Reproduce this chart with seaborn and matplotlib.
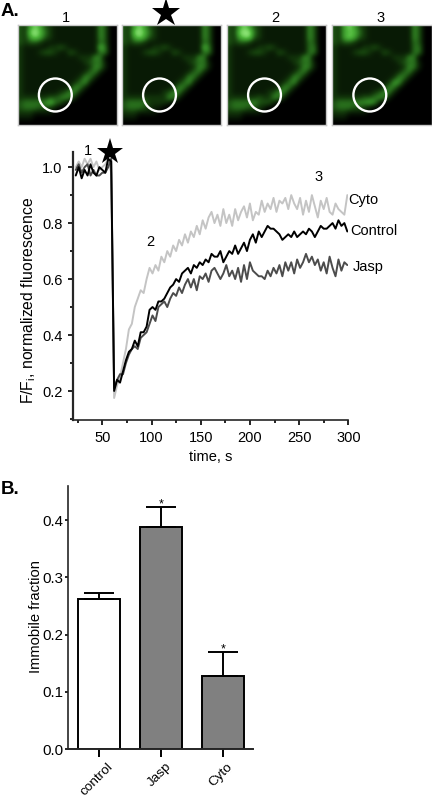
import numpy as np
import pandas as pd
import seaborn as sns
import matplotlib
matplotlib.use("Agg")
import matplotlib.pyplot as plt
from matplotlib.colors import LinearSegmentedColormap
from matplotlib.lines import Line2D
from matplotlib.patches import Circle
from matplotlib.ticker import MultipleLocator
from matplotlib.transforms import ScaledTranslation

W, H = 432, 798

time_s = [23, 26, 29, 32, 35, 38, 41, 44, 47, 50, 53, 56, 59,
          62, 65, 68, 71, 74, 77, 80, 83, 86, 89,
          92, 95, 98, 101, 104, 107, 110, 113, 116, 119,
          122, 125, 128, 131, 134, 137, 140, 143, 146, 149,
          152, 155, 158, 161, 164, 167, 170, 173, 176, 179,
          182, 185, 188, 191, 194, 197, 200, 203, 206, 209,
          212, 215, 218, 221, 224, 227, 230, 233, 236, 239,
          242, 245, 248, 251, 254, 257, 260, 263, 266, 269,
          272, 275, 278, 281, 284, 287, 290, 293, 296, 299]

control = [.97, 1.0, .96, .99, .97, 1.01, .98, .97, 1.0, .99, .98, 1.03, 1.02,
           .20, .24, .23, .27, .31, .34, .35, .38, .36, .41,
           .41, .43, .49, .50, .49, .52, .52, .53, .55, .57,
           .58, .60, .59, .62, .63, .64, .62, .65, .64, .66,
           .65, .67, .66, .69, .68, .68, .70, .66, .68, .70,
           .69, .72, .69, .71, .73, .70, .74, .76, .73, .77,
           .75, .77, .79, .78, .78, .77, .76, .74, .75, .76,
           .75, .77, .75, .76, .77, .76, .78, .77, .75, .77,
           .79, .78, .78, .79, .80, .78, .81, .79, .80, .77]

jasp = [.99, 1.01, .98, 1.0, 1.01, .97, .99, .97, .97, .98, .98, 1.0, 1.03,
        .21, .24, .26, .26, .30, .33, .35, .36, .35, .39,
        .40, .41, .44, .47, .45, .50, .51, .52, .50, .53,
        .55, .54, .57, .55, .58, .60, .57, .60, .56, .61,
        .60, .62, .59, .63, .64, .62, .60, .62, .65, .61,
        .63, .60, .64, .59, .65, .60, .66, .63, .62, .61,
        .61, .60, .63, .61, .64, .62, .65, .61, .66, .63,
        .66, .62, .67, .64, .66, .69, .66, .68, .65, .67,
        .63, .66, .62, .68, .64, .61, .67, .63, .66, .65]

cyto = [1.0, 1.02, 1.0, 1.03, 1.01, 1.03, 1.0, 1.02, .99, 1.0, 1.01, 1.03, .98,
        .175, .22, .25, .30, .35, .42, .44, .50, .53, .56,
        .55, .60, .64, .62, .65, .63, .68, .66, .70, .68,
        .72, .70, .74, .72, .76, .73, .77, .75, .79, .76,
        .81, .78, .82, .84, .80, .83, .79, .85, .80, .83,
        .79, .85, .81, .84, .86, .82, .87, .81, .84, .83,
        .88, .84, .87, .85, .89, .84, .88, .87, .89, .85,
        .90, .87, .85, .89, .83, .88, .84, .90, .86, .82,
        .88, .85, .89, .84, .83, .87, .85, .84, .83, .90]

bar_names = ["control", "Jasp", "Cyto"]
bar_values = [.263, .388, .128]
bar_errors = [.009, .034, .041]

# coarse brightness of the micrograph, 0 to 9
cell_rows = ["32686 32111 11111 15300",
             "32897 42111 11111 15300",
             "32686 32111 11111 15300",
             "32332 11111 11111 14300",
             "21111 12232 11111 14400",
             "21112 33211 32111 14400",
             "21111 11111 11222 54000",
             "21111 11111 11123 44100",
             "21111 11111 11112 54100",
             "21111 11111 11124 41000",
             "21111 11111 11254 10000",
             "21111 11111 12451 00000",
             "21111 11111 25410 00000",
             "21111 11123 54100 00000",
             "22222 23345 41000 00000",
             "34444 55431 00000 00000",
             "34443 32100 00000 00000",
             "22211 11000 00000 00000",
             "11100 00000 00000 00000",
             "00000 00000 00000 00000"]

# (row, column, brightness) changes for each micrograph
panel_patches = [
    [(15, 6, 7), (4, 16, 7)],
    [(14, 6, 2), (14, 7, 2), (14, 8, 2), (15, 5, 2), (15, 6, 2), (15, 7, 2),
     (15, 8, 2), (16, 5, 2), (16, 6, 1), (4, 16, 7)],
    [(14, 7, 2), (14, 8, 2), (15, 6, 3), (15, 7, 3), (15, 8, 3), (1, 3, 9), (1, 4, 9),
     (2, 3, 8), (2, 4, 8)],
    [(15, 6, 5), (15, 7, 6), (15, 8, 5), (11, 12, 6), (1, 2, 6), (1, 3, 7)],
]
panel_titles = ["1", "", "2", "3"]
panel_lefts = [17.5, 121.7, 226.7, 332]

sns.set_style("ticks")
plt.rcParams["font.family"] = ["Liberation Sans", "DejaVu Sans"]
plt.rcParams["mathtext.default"] = "regular"
plt.rcParams["text.color"] = "black"
plt.rcParams["axes.labelcolor"] = "black"
plt.rcParams["xtick.labelcolor"] = "black"
plt.rcParams["ytick.labelcolor"] = "black"


def px_axes(fig, left, top, right, bottom):
    return fig.add_axes([left / W, 1 - bottom / H, (right - left) / W, (bottom - top) / H])


def fig_text(fig, x, y, text, **kwargs):
    fig.text(x / W, 1 - y / H, text, va="center", **kwargs)


def fig_star(fig, x, y, size):
    fig.add_artist(Line2D([x / W], [1 - y / H], marker="*", markersize=size, color="black",
                          markeredgewidth=0, transform=fig.transFigure))


def plot_panels(fig):
    green = LinearSegmentedColormap.from_list(
        "cell", ["#000000", "#143c0c", "#2f7f22", "#4db53a", "#9aef82"])
    base = np.array([[int(c) for c in row.replace(" ", "")] for row in cell_rows], dtype=float)
    for left, patches, title in zip(panel_lefts, panel_patches, panel_titles):
        grid = base.copy()
        for row, col, value in patches:
            grid[row, col] = value
        ax = px_axes(fig, left, 25, left + 99.5, 125)
        ax.imshow(grid, cmap=green, vmin=0, vmax=9, interpolation="bicubic",
                  extent=(0, 100, 100, 0), aspect="auto")
        ax.add_patch(Circle((38, 70), 16.5, fill=False, ec="white", lw=1.7))
        ax.set_xticks([])
        ax.set_yticks([])
        for spine in ax.spines.values():
            spine.set_color("#c8c8c8")
            spine.set_linewidth(1)
        if title:
            fig_text(fig, left + 48.5, 18, title, ha="center", fontsize=10.5)


def plot_recovery(fig):
    ax = px_axes(fig, 73.3, 152, 348.3, 420)
    frame = pd.DataFrame({"time": time_s * 3,
                          "value": cyto + jasp + control,
                          "group": ["Cyto"] * len(cyto) + ["Jasp"] * len(jasp)
                          + ["Control"] * len(control)})
    sns.lineplot(data=frame, x="time", y="value", hue="group", errorbar=None,
                 palette={"Cyto": "#c4c4c4", "Jasp": "#4c4c4c", "Control": "#000000"},
                 linewidth=1.4, legend=False, ax=ax)
    ax.set_xlim(20.5, 300)
    ax.set_ylim(0.0964, 1.054)
    ax.xaxis.set_major_locator(MultipleLocator(50))
    ax.xaxis.set_minor_locator(MultipleLocator(25))
    ax.yaxis.set_major_locator(MultipleLocator(0.2))
    ax.yaxis.set_minor_locator(MultipleLocator(0.1))
    sns.despine(ax=ax)
    ax.spines["left"].set_linewidth(1.6)
    ax.spines["bottom"].set_linewidth(1.2)
    ax.tick_params(which="major", length=3.6, width=1.2, labelsize=10.5, pad=4, color="black")
    ax.tick_params(which="minor", length=2, width=1.2, color="black")
    ax.set_xlabel("time, s", fontsize=10.5, labelpad=4)
    ax.set_ylabel("F/F$_{i}$, normalized fluorescence", fontsize=11.3)
    ax.yaxis.set_label_coords(-0.129, 0.448)

    ax.text(35, 1.058, "1", fontsize=10.5, ha="center", va="center", clip_on=False)
    ax.text(99, 0.733, "2", fontsize=10.5, ha="center", va="center")
    ax.text(270, 0.964, "3", fontsize=10.5, ha="center", va="center")
    ax.text(299.6, 0.882, "Cyto", fontsize=10.5, va="center", clip_on=False)
    ax.text(301.6, 0.772, "Control", fontsize=10.5, va="center", clip_on=False)
    ax.text(304.7, 0.644, "Jasp", fontsize=10.5, va="center", clip_on=False)


def plot_fraction(fig):
    ax = px_axes(fig, 68.3, 485.7, 253, 749.3)
    sns.barplot(x=bar_names, y=bar_values, hue=bar_names, legend=False,
                palette=["white", "#808080", "#808080"], width=0.68,
                edgecolor="black", linewidth=1.4, ax=ax)
    ax.errorbar(bar_names, bar_values, yerr=[[0, 0, 0], bar_errors], fmt="none",
                ecolor="black", elinewidth=1.4, capsize=11, capthick=1.4, zorder=1)
    ax.set_xlim(-0.495, 2.48)
    ax.set_ylim(0, 0.46)
    ax.yaxis.set_major_locator(MultipleLocator(0.1))
    sns.despine(ax=ax)
    ax.spines["left"].set_linewidth(1.2)
    ax.spines["bottom"].set_linewidth(1.4)
    ax.tick_params(axis="y", length=2.5, width=1.2, labelsize=10.8, pad=1, color="black")
    ax.tick_params(axis="x", length=5.5, width=1.4, labelsize=9.7, pad=2.5, color="black")
    shift = ScaledTranslation(-2 / 100, 0, fig.dpi_scale_trans)
    for label in ax.get_xticklabels():
        label.set_rotation(45)
        label.set_ha("center")
        label.set_transform(label.get_transform() + shift)
    ax.set_ylabel("Immobile fraction", fontsize=10.6)
    ax.yaxis.set_label_coords(-0.137, 0.503)
    for pos in [1, 2]:
        ax.text(pos, bar_values[pos] + bar_errors[pos] + 0.006, "*", fontsize=9,
                ha="center", va="center")


fig = plt.figure(figsize=(W / 100, H / 100), dpi=100)
plot_panels(fig)
plot_recovery(fig)
plot_fraction(fig)

fig_text(fig, 1, 11, "A.", fontsize=13.5, fontweight="bold")
fig_text(fig, 1, 490, "B.", fontsize=13.5, fontweight="bold")
fig_star(fig, 166, 13, 21)
fig_star(fig, 110, 152, 20)

fig.savefig("out.png", dpi=100)
